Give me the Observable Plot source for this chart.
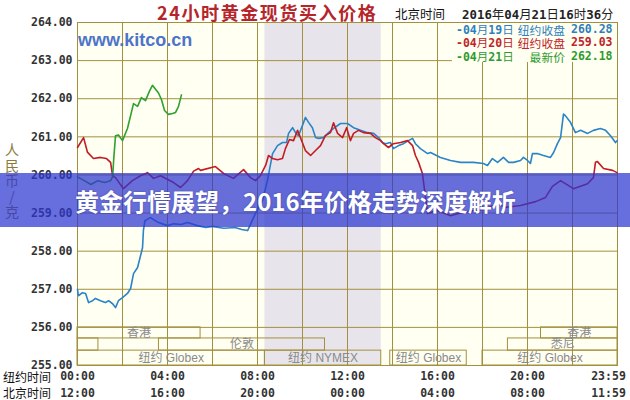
<!DOCTYPE html>
<html><head><meta charset="utf-8">
<script src="https://cdn.jsdelivr.net/npm/d3@7"></script>
<script src="https://cdn.jsdelivr.net/npm/@observablehq/plot@0.6"></script>
<style>
html,body{margin:0;padding:0;background:#fff;}
#wrap{position:relative;width:630px;height:400px;overflow:hidden;background:#fff;}
.abs{position:absolute;white-space:nowrap;}
.mono{font-family:"DejaVu Sans Mono",monospace;font-weight:bold;}
</style></head><body><div id="wrap"></div>
<script>
// ---- data (New York hour, price CNY/g) ----
const blueSeries = [[0,257.0],[0.04,256.83],[0.22,256.91],[0.36,256.89],[0.49,256.65],[0.67,256.7],[0.8,256.76],[1.02,256.7],[1.24,256.65],[1.38,256.7],[1.56,256.62],[1.69,256.52],[1.82,256.7],[2.0,256.78],[2.22,256.89],[2.36,257.02],[2.49,257.41],[2.67,257.57],[2.89,258.09],[2.93,258.55],[3.0,258.8],[3.24,258.88],[3.6,258.75],[4.0,258.67],[4.27,258.72],[4.6,258.7],[4.89,258.75],[5.33,258.67],[5.7,258.62],[6.0,258.65],[6.5,258.6],[7.0,258.62],[7.3,258.57],[7.56,258.54],[7.91,258.99],[8.22,259.33],[8.44,259.85],[8.67,260.56],[8.89,260.77],[9.11,260.85],[9.29,260.85],[9.38,261.09],[9.56,261.24],[9.69,261.11],[9.82,261.03],[10.0,261.3],[10.13,261.51],[10.27,261.38],[10.44,261.24],[10.58,260.98],[10.71,260.96],[10.93,260.98],[11.16,261.11],[11.38,261.22],[11.69,261.35],[12.0,261.35],[12.27,261.24],[12.58,261.17],[12.89,261.11],[13.16,261.09],[13.38,260.98],[13.56,260.85],[13.69,260.82],[13.91,260.85],[14.04,260.69],[14.27,260.77],[14.49,260.82],[14.71,260.9],[14.89,260.96],[15.02,260.82],[15.24,260.69],[15.56,260.56],[15.69,260.59],[16.13,260.46],[16.58,260.38],[17.02,260.33],[17.6,260.33],[18.04,260.3],[18.22,260.25],[18.44,260.43],[18.67,260.33],[18.93,260.46],[19.16,260.33],[19.38,260.33],[19.69,260.38],[19.82,260.46],[20.0,260.38],[20.13,260.3],[20.22,260.56],[20.44,260.56],[20.71,260.51],[21.02,260.46],[21.16,260.59],[21.33,260.82],[21.47,260.98],[21.6,261.6],[21.69,261.55],[21.91,261.38],[22.13,261.11],[22.36,261.17],[22.67,261.09],[22.93,261.17],[23.24,261.22],[23.47,261.17],[23.69,261.03],[23.91,260.85],[23.98,260.9]];
const redSeries = [[0,260.72],[0.27,260.98],[0.44,260.6],[0.71,260.43],[1.02,260.46],[1.29,260.43],[1.47,260.33],[1.56,259.98],[1.69,259.93],[2.04,259.64],[2.44,259.85],[2.8,259.98],[3.11,260.06],[3.38,259.91],[3.69,259.98],[4.27,259.8],[4.58,259.67],[4.89,259.85],[5.16,260.1],[5.38,260.17],[5.47,260.12],[6.13,260.22],[6.49,260.04],[6.93,259.91],[7.38,260.14],[7.69,259.93],[7.91,259.85],[8.13,259.98],[8.36,260.25],[8.49,260.51],[8.67,260.43],[8.89,260.4],[9.11,260.43],[9.24,260.69],[9.42,260.93],[9.6,260.9],[9.78,261.17],[9.91,260.98],[10.13,260.64],[10.36,260.51],[10.58,260.64],[10.8,260.77],[11.02,261.03],[11.24,261.11],[11.38,261.37],[11.56,261.09],[11.78,260.98],[11.96,261.24],[12.13,260.9],[12.27,261.09],[12.49,261.17],[12.71,261.11],[13.02,261.09],[13.24,260.98],[13.47,260.9],[13.6,260.82],[13.82,260.72],[14.04,260.82],[14.36,260.85],[14.67,260.9],[14.89,260.77],[15.02,260.51],[15.16,260.33],[15.33,260.04],[15.56,258.99],[16.0,259.07],[16.58,258.93],[17.02,259.0],[17.47,259.05],[18.13,259.1],[18.67,259.25],[19.02,259.15],[19.69,259.2],[20.36,259.3],[20.8,259.41],[21.11,259.7],[21.47,259.85],[22.04,259.64],[22.67,259.77],[22.93,259.93],[23.02,260.33],[23.11,260.35],[23.38,260.17],[23.78,260.12],[23.98,260.06]];
const greenSeries = [[0,259.95],[0.3,259.85],[0.6,259.75],[0.9,259.85],[1.2,259.8],[1.47,259.85],[1.56,259.95],[1.62,260.5],[1.69,261.03],[1.82,261.05],[2.0,260.9],[2.22,261.22],[2.49,261.87],[2.67,261.8],[2.84,262.03],[3.02,261.95],[3.2,262.2],[3.33,262.35],[3.47,262.25],[3.6,262.15],[3.73,261.98],[3.87,261.69],[4.04,261.59],[4.22,261.61],[4.36,261.64],[4.49,261.8],[4.62,262.1]];

const legendDates = ["04月19日","04月20日","04月21日"];
const legendLabels = ["纽约收盘","纽约收盘","最新价"];
const legendValues = ["260.28","259.03","262.18"];
const seriesColors = ["#2a84c8","#c21c24","#2ea12e"];
const legendColors = ["#2f7fbf","#c0242a","#2f9a2f"];

const yTicks = [255,256,257,258,259,260,261,262,263,264];
const yTitle = "人民币/克";
const xGridHours = [0,2,4,6,8,10,12,14,16,18,20,22,24];
const xLabelHours = [0,4,8,12,16,20,24];
const nyTimeLabels = ["00:00","04:00","08:00","12:00","16:00","20:00","23:59"];
const bjTimeLabels = ["12:00","16:00","20:00","00:00","04:00","08:00","11:59"];

const nymexShade = [8.33, 13.5];
const sessionNames = ["香港","悉尼","伦敦","纽约 Globex","纽约 NYMEX","纽约 Globex","纽约 Globex","悉尼","香港"];
const sessionStart = [0, 0, 3.62, 0, 8.33, 13.9, 18.0, 19.13, 20.6];
const sessionEnd   = [5.47, 0.93, 11.0, 8.33, 13.5, 17.3, 24, 24, 24];
const sessionRow   = [0, 1, 1, 2, 2, 2, 2, 1, 0];
const sessionLabelShown = [true, false, true, true, true, true, true, true, true];

const title = "24小时黄金现货买入价格";
const stampLabel = "北京时间";
const stamp = "2016年04月21日16时36分";
const bannerText = "黄金行情展望，2016年价格走势深度解析";

// ---- layout helpers ----
const rowTop = [256, 255.71, 255.39];
const rowBottom = [255.71, 255.39, 255.0];
const rowMid = [255.855, 255.55, 255.2];
const gridColor = "#a3903f";
const idx = sessionNames.map((_, i) => i);
const tIdx = xLabelHours.map((_, i) => i);

const tickFont = {fontFamily: "DejaVu Sans Mono", fontWeight: "bold", fontSize: 11.5, fill: "#333"};

const chart = Plot.plot({
  width: 630, height: 400,
  marginLeft: 77, marginRight: 13, marginTop: 22, marginBottom: 35,
  x: {domain: [0, 24], axis: null},
  y: {domain: [255, 264], axis: null},
  style: {background: "transparent", overflow: "visible"},
  marks: [
    Plot.frame({fill: "#fffff2", stroke: null}),
    Plot.rect([nymexShade], {x1: d => d[0], x2: d => d[1], fill: "#e7e5eb"}),
    Plot.gridX(xGridHours, {stroke: gridColor, strokeOpacity: 1, strokeWidth: 1}),
    Plot.gridY(yTicks, {stroke: gridColor, strokeOpacity: 1, strokeWidth: 1}),
    Plot.rect(idx, {x1: i => sessionStart[i], x2: i => sessionEnd[i], y1: i => rowTop[sessionRow[i]], y2: i => rowBottom[sessionRow[i]], fill: "none", stroke: gridColor, strokeWidth: 1}),
    Plot.text(idx.filter(i => sessionLabelShown[i]), {x: i => (sessionStart[i] + sessionEnd[i]) / 2, y: i => rowMid[sessionRow[i]], text: i => sessionNames[i], fill: "#8a8a8a", fontSize: 12, fontFamily: "Liberation Sans, Noto Sans CJK SC"}),
    Plot.frame({stroke: gridColor, strokeWidth: 1}),
    Plot.line(blueSeries, {x: d => d[0], y: d => d[1], stroke: seriesColors[0], strokeWidth: 1.6}),
    Plot.line(redSeries, {x: d => d[0], y: d => d[1], stroke: seriesColors[1], strokeWidth: 1.6}),
    Plot.line(greenSeries, {x: d => d[0], y: d => d[1], stroke: seriesColors[2], strokeWidth: 1.6}),
    Plot.axisY(yTicks, {tickFormat: d => d.toFixed(2), tickSize: 0, tickPadding: 5, ...tickFont}),
    Plot.text(tIdx.slice(0, 6), {x: i => xLabelHours[i], text: i => nyTimeLabels[i], frameAnchor: "bottom", dy: 11, lineAnchor: "middle", ...tickFont}),
    Plot.text(tIdx.slice(6), {x: i => xLabelHours[i], text: i => nyTimeLabels[i], frameAnchor: "bottom", dy: 11, dx: -9, lineAnchor: "middle", ...tickFont}),
    Plot.text(tIdx.slice(0, 6), {x: i => xLabelHours[i], text: i => bjTimeLabels[i], frameAnchor: "bottom", dy: 28, lineAnchor: "middle", ...tickFont}),
    Plot.text(tIdx.slice(6), {x: i => xLabelHours[i], text: i => bjTimeLabels[i], frameAnchor: "bottom", dy: 28, dx: -9, lineAnchor: "middle", ...tickFont})
  ]
});
chart.style.position = "absolute";
chart.style.left = "0px";
chart.style.top = "0px";
const wrap = document.getElementById("wrap");
wrap.appendChild(chart);

function add(html, css) {
  const d = document.createElement("div");
  d.className = "abs";
  d.innerHTML = html;
  Object.assign(d.style, css);
  wrap.appendChild(d);
  return d;
}
function monoCjk(s) {
  return s.replace(/([0-9:.\-]+)/g, '<span class="mono">$1</span>');
}

// title & timestamp
add(title, {left: "157px", top: "1px", fontFamily: "Noto Sans CJK SC", fontWeight: "bold", fontSize: "18px", lineHeight: "22px", letterSpacing: "1.6px", color: "#b5262b"});
add(stampLabel, {left: "395px", top: "6px", fontFamily: "Noto Sans CJK SC", fontSize: "12.5px", lineHeight: "16px", color: "#111"});
add(monoCjk(stamp), {left: "462px", top: "6px", fontFamily: "Noto Sans CJK SC", fontSize: "12.4px", lineHeight: "16px", color: "#222"});

// watermark
add("www.kitco.cn", {left: "78px", top: "29px", fontFamily: "Liberation Sans", fontWeight: "bold", fontSize: "18px", lineHeight: "22px", color: "#4d74c9"});

// legend box
add("", {left: "452px", top: "23px", width: "165px", height: "39px", background: "#fffff2"});
legendDates.forEach((dt, i) => {
  const top = 22.5 + i * 13.5;
  add(monoCjk("-" + dt), {left: "456px", top: top + "px", fontFamily: "Noto Sans CJK SC", fontSize: "11.5px", lineHeight: "13px", color: legendColors[i]});
  add(legendLabels[i], {right: "65px", top: top + "px", fontFamily: "Noto Sans CJK SC", fontSize: "11.8px", lineHeight: "13px", color: legendColors[i]});
  add('<span class="mono">' + legendValues[i] + '</span>', {left: "571px", top: top + "px", fontSize: "11.5px", lineHeight: "13px", color: legendColors[i]});
});

// y-axis title (vertical)
add(yTitle, {left: "4px", top: "143px", writingMode: "vertical-rl", textOrientation: "upright", letterSpacing: "1.5px", fontFamily: "Noto Sans CJK SC", fontSize: "14px", lineHeight: "16px", color: "#8a7b3c"});

// bottom-left row labels
add("纽约时间", {left: "3px", top: "369px", fontFamily: "Noto Sans CJK SC", fontSize: "12px", lineHeight: "16px", color: "#111"});
add("北京时间", {left: "3px", top: "385px", fontFamily: "Noto Sans CJK SC", fontSize: "12px", lineHeight: "16px", color: "#111"});

// banner overlay
add("", {left: "0px", top: "173px", width: "630px", height: "54px", background: "rgba(44,54,208,0.72)"});
add(bannerText, {left: "75px", top: "186px", fontFamily: "Noto Sans CJK SC", fontWeight: "bold", fontSize: "24px", lineHeight: "30px", color: "#fff", textShadow: "0 0 2px rgba(0,0,40,0.35)"});
</script></body></html>
